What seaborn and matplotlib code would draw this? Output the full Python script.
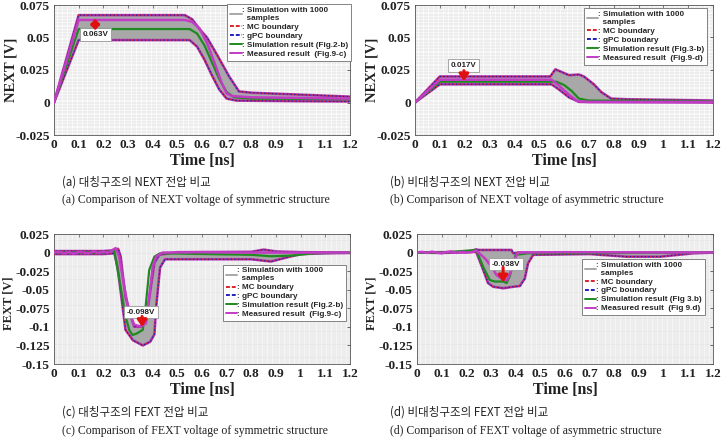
import numpy as np
import pandas as pd
import seaborn as sns
import matplotlib
matplotlib.use("Agg")
import matplotlib.pyplot as plt
from matplotlib.ticker import MultipleLocator, FixedLocator
from matplotlib.lines import Line2D

sns.set_style("white")
plt.rcParams['font.family'] = ['Liberation Serif', 'DejaVu Sans']

# ---------------- data ----------------
# (a) NEXT, symmetric
a_up_t = [0, 0.1, 0.53, 0.56, 0.59, 0.62, 0.66, 0.71, 0.75, 0.8, 1.0, 1.2]
a_up_v = [0, 0.0672, 0.0672, 0.064, 0.0565, 0.050, 0.037, 0.020, 0.0085, 0.0075, 0.006, 0.0045]
a_lo_t = [0, 0.1, 0.55, 0.58, 0.61, 0.64, 0.67, 0.70, 0.74, 1.0, 1.2]
a_lo_v = [0, 0.048, 0.048, 0.043, 0.033, 0.021, 0.010, 0.003, 0.0015, 0.001, 0.0008]
a_sim_t = [0, 0.1, 0.55, 0.58, 0.61, 0.64, 0.67, 0.70, 0.73, 0.8, 1.2]
a_sim_v = [0, 0.0565, 0.0565, 0.053, 0.044, 0.031, 0.018, 0.008, 0.004, 0.003, 0.0025]
a_meas_t = [0, 0.1, 0.53, 0.56, 0.59, 0.62, 0.65, 0.68, 0.70, 0.72, 0.8, 1.2]
a_meas_v = [0, 0.0635, 0.0635, 0.062, 0.057, 0.046, 0.031, 0.015, 0.007, 0.005, 0.004, 0.003]

# (b) NEXT, asymmetric
b_up_t = [0, 0.1, 0.545, 0.565, 0.59, 0.62, 0.66, 0.68, 0.72, 0.75, 0.79, 0.85, 1.2]
b_up_v = [0, 0.020, 0.020, 0.0255, 0.0235, 0.021, 0.0215, 0.020, 0.014, 0.008, 0.003, 0.0025, 0.0015]
b_lo_t = [0, 0.1, 0.55, 0.58, 0.62, 0.66, 0.7, 1.2]
b_lo_v = [0, 0.014, 0.014, 0.010, 0.004, 0.0005, 0.0003, 0.0]
b_sim_t = [0, 0.1, 0.57, 0.6, 0.63, 0.66, 0.7, 1.2]
b_sim_v = [0, 0.016, 0.016, 0.0135, 0.009, 0.003, 0.0015, 0.001]
b_meas_t = [0, 0.1, 0.55, 0.58, 0.62, 0.655, 0.7, 1.2]
b_meas_v = [0, 0.0175, 0.0175, 0.013, 0.006, 0.001, 0.0005, 0.0005]

# (c) FEXT, symmetric
c_up_t = [0, 0.1, 0.2, 0.24, 0.26, 0.27, 0.29, 0.325, 0.35, 0.373, 0.393, 0.407, 0.427, 0.5, 0.8, 0.85, 0.9, 1.0, 1.2]
c_up_v = [0.002, 0.002, 0.002, 0.003, 0.005, -0.005, -0.06, -0.0997, -0.100, -0.091, -0.046, -0.014, -0.003, 0.0005, 0.001, 0.004, 0.0015, 0.0005, 0.0]
c_lo_t = [0, 0.1, 0.2, 0.245, 0.258, 0.29, 0.32, 0.36, 0.39, 0.407, 0.415, 0.43, 0.45, 0.5, 0.8, 0.88, 0.95, 1.0, 1.1, 1.2]
c_lo_v = [-0.002, -0.002, -0.002, -0.001, -0.02, -0.104, -0.118, -0.125, -0.12, -0.11, -0.07, -0.02, -0.009, -0.009, -0.009, -0.012, -0.006, -0.002, -0.001, -0.0005]
c_sim_t = [0, 0.1, 0.2, 0.244, 0.27, 0.29, 0.305, 0.318, 0.335, 0.36, 0.373, 0.386, 0.407, 0.43, 0.8, 0.88, 0.97, 1.05, 1.2]
c_sim_v = [0.0, 0.0, 0.0, 0.003, -0.046, -0.086, -0.104, -0.111, -0.109, -0.104, -0.068, -0.0235, -0.0055, -0.001, -0.003, -0.005, -0.004, -0.001, 0.0]
c_meas_t = [0, 0.02, 0.04, 0.06, 0.08, 0.1, 0.12, 0.14, 0.16, 0.18, 0.2, 0.22, 0.25, 0.264, 0.285, 0.305, 0.325, 0.352, 0.373, 0.386, 0.4, 0.414, 0.44, 0.6, 0.8, 1.0, 1.2]
c_meas_v = [0.0, 0.001, -0.001, 0.0005, -0.0015, 0.001, 0.0, -0.001, 0.0015, -0.0005, 0.001, 0.0, 0.006, -0.005, -0.046, -0.082, -0.097, -0.0997, -0.095, -0.059, -0.019, -0.0055, 0.0, 0.0005, 0.0, 0.0, 0.0]

# (d) FEXT, asymmetric
d_up_t = [0, 0.1, 0.2, 0.241, 0.248, 0.383, 0.39, 0.41, 0.6, 1.2]
d_up_v = [0.0003, 0.0005, 0.0005, 0.0044, 0.0035, 0.0035, -0.001, 0.0, 0.0, 0.0]
d_lo_t = [0, 0.1, 0.24, 0.268, 0.288, 0.309, 0.35, 0.39, 0.417, 0.437, 0.45, 0.471, 0.7, 0.85, 0.986, 1.12, 1.2]
d_lo_v = [0.0, -0.0005, 0.001, -0.023, -0.041, -0.046, -0.048, -0.046, -0.045, -0.035, -0.0145, -0.003, -0.002, -0.0055, -0.0055, -0.001, 0.0]
d_sim_t = [0, 0.1, 0.24, 0.268, 0.295, 0.316, 0.35, 0.363, 0.376, 0.39, 0.40, 0.45, 1.2]
d_sim_v = [0.0, 0.0, 0.0035, -0.019, -0.037, -0.039, -0.039, -0.041, -0.032, -0.0145, -0.003, -0.001, 0.0]
d_meas_t = [0, 0.02, 0.04, 0.06, 0.08, 0.1, 0.12, 0.14, 0.16, 0.18, 0.2, 0.22, 0.24, 0.275, 0.302, 0.322, 0.35, 0.365, 0.383, 0.397, 0.41, 0.6, 1.2]
d_meas_v = [0.0, 0.001, -0.0005, 0.0012, 0.0, -0.001, 0.0008, 0.0015, -0.0005, 0.001, 0.0, 0.0005, 0.0026, -0.0077, -0.019, -0.030, -0.037, -0.037, -0.0235, -0.0077, 0.0, 0.0005, 0.0]

x_ticks = [0, 0.1, 0.2, 0.3, 0.4, 0.5, 0.6, 0.7, 0.8, 0.9, 1.0, 1.1, 1.2]
x_tick_labels = ['0', '0.1', '0.2', '0.3', '0.4', '0.5', '0.6', '0.7', '0.8', '0.9', '1', '1.1', '1.2']
next_ticks = [-0.025, 0, 0.025, 0.05, 0.075]
next_tick_labels = ['-0.025', '0', '0.025', '0.05', '0.075']
fext_ticks = [-0.15, -0.125, -0.1, -0.075, -0.05, -0.025, 0, 0.025]
fext_tick_labels = ['-0.15', '-0.125', '-0.1', '-0.075', '-0.05', '-0.025', '0', '0.025']

legend_labels = [': Simulation with 1000\n  samples', ': MC boundary', ': gPC boundary']
sim_labels = {'a': ': Simulation result (Fig.2-b)', 'b': ': Simulation result (Fig.3-b)',
              'c': ': Simulation result (Fig.2-b)', 'd': ': Simulation result (Fig 3.b)'}
meas_labels = {'a': ': Measured result  (Fig.9-c)', 'b': ': Measured result  (Fig.9-d)',
               'c': ': Measured result  (Fig.9-c)', 'd': ': Measured result  (Fig 9.d)'}
annot_text = {'a': '0.063V', 'b': '0.017V', 'c': '-0.098V', 'd': '-0.038V'}

cap_ko = {'a': '(a) 대칭구조의 NEXT 전압 비교', 'b': '(b) 비대칭구조의 NEXT 전압 비교',
          'c': '(c) 대칭구조의 FEXT 전압 비교', 'd': '(d) 비대칭구조의 FEXT 전압 비교'}
cap_en = {'a': '(a) Comparison of NEXT voltage of symmetric structure',
          'b': '(b) Comparison of NEXT voltage of asymmetric structure',
          'c': '(c) Comparison of FEXT voltage of symmetric structure',
          'd': '(d) Comparison of FEXT voltage of asymmetric structure'}

# ---------------- figure ----------------
W, H = 723, 446
fig = plt.figure(figsize=(W / 100, H / 100), dpi=100)

def px_axes(l, r, t, b):
    return fig.add_axes([l / W, 1 - b / H, (r - l) / W, (b - t) / H])

panels = {
    'a': dict(box=(54, 350, 5, 135), up=(a_up_t, a_up_v), lo=(a_lo_t, a_lo_v), sim=(a_sim_t, a_sim_v),
              meas=(a_meas_t, a_meas_v), ylab='NEXT [V]', ylx=11, yls=10.5, yly=0.5,
              ylim=(-0.025, 0.075), yt=(next_ticks, next_tick_labels),
              leg=(0.585, 1.005), ann=dict(xy=(0.167, 0.0645), xyt=(0.167, 0.0555), txt=(0.168, 0.0523), both=True)),
    'b': dict(box=(415, 713, 5, 135), up=(b_up_t, b_up_v), lo=(b_lo_t, b_lo_v), sim=(b_sim_t, b_sim_v),
              meas=(b_meas_t, b_meas_v), ylab='NEXT [V]', ylx=372, yls=10.5, yly=0.5,
              ylim=(-0.025, 0.075), yt=(next_ticks, next_tick_labels),
              leg=(0.567, 0.975), ann=dict(xy=(0.197, 0.0165), xyt=(0.197, 0.0245), txt=(0.196, 0.0285), both=False)),
    'c': dict(box=(54, 350, 234, 364), up=(c_up_t, c_up_v), lo=(c_lo_t, c_lo_v), sim=(c_sim_t, c_sim_v),
              meas=(c_meas_t, c_meas_v), ylab='FEXT [V]', ylx=9, yls=9.0, yly=0.47,
              ylim=(-0.15, 0.025), yt=(fext_ticks, fext_tick_labels),
              leg=(0.571, 0.765), ann=dict(xy=(0.357, -0.100), xyt=(0.357, -0.086), txt=(0.352, -0.080), both=False)),
    'd': dict(box=(417, 713, 234, 364), up=(d_up_t, d_up_v), lo=(d_lo_t, d_lo_v), sim=(d_sim_t, d_sim_v),
              meas=(d_meas_t, d_meas_v), ylab='FEXT [V]', ylx=372, yls=9.0, yly=0.47,
              ylim=(-0.15, 0.025), yt=(fext_ticks, fext_tick_labels),
              leg=(0.557, 0.81), ann=dict(xy=(0.349, -0.040), xyt=(0.349, -0.020), txt=(0.36, -0.0154), both=False)),
}

leg_font = dict(family=['Liberation Sans', 'DejaVu Sans'], weight='bold', size=5.9)
tick_font = dict(family='Liberation Serif', weight='bold', size=9.6)

for key, p in panels.items():
    ax = px_axes(*p['box'])
    ax.set_facecolor('white')
    ax.set_xlim(0, 1.2)
    ax.set_ylim(*p['ylim'])
    ax.xaxis.set_major_locator(FixedLocator(x_ticks))
    ax.xaxis.set_minor_locator(MultipleLocator(0.01))
    ax.yaxis.set_major_locator(FixedLocator(p['yt'][0]))
    ax.yaxis.set_minor_locator(MultipleLocator(0.0025))
    ax.grid(True, which='both', color='#d6d6d6', lw=0.35, zorder=0)
    ax.set_axisbelow(True)

    # gray band of 1000 samples
    t_all = np.union1d(p['up'][0], p['lo'][0])
    upi = np.interp(t_all, p['up'][0], p['up'][1])
    loi = np.interp(t_all, p['lo'][0], p['lo'][1])
    ax.fill_between(t_all, loi, upi, color='#a8a8a8', lw=0, zorder=2)

    # boundaries (MC red dashed, gPC blue dashed)
    for (tt, vv) in (p['up'], p['lo']):
        sns.lineplot(x=tt, y=vv, ax=ax, color='#b53db8', lw=1.9, zorder=3)
        sns.lineplot(x=tt, y=vv, ax=ax, color='#d0202a', lw=0.9, zorder=4,
                     linestyle=(0, (1.2, 1.8)))
        sns.lineplot(x=tt, y=vv, ax=ax, color='#202090', lw=0.9, zorder=4,
                     linestyle=(1.5, (1.2, 1.8)))
    # simulation & measurement
    sns.lineplot(x=p['sim'][0], y=p['sim'][1], ax=ax, color='#1f8a1f', lw=1.6, zorder=5)
    sns.lineplot(x=p['meas'][0], y=p['meas'][1], ax=ax, color='#c23cc6', lw=1.8, zorder=6)

    # ticks
    ax.set_xticks(x_ticks)
    ax.set_xticklabels(x_tick_labels, **tick_font)
    ax.set_yticks(p['yt'][0])
    ax.set_yticklabels(p['yt'][1], **tick_font)
    ax.tick_params(axis='both', which='major', direction='in', length=2, width=0.5,
                   top=True, right=True, pad=3, colors='#333333', labelcolor='#222222')
    ax.tick_params(axis='both', which='minor', length=0)
    for s in ax.spines.values():
        s.set_color('#555555')
        s.set_linewidth(0.6)
        s.set_visible(True)
    ax.set_xlabel('Time [ns]', family='Liberation Serif', weight='bold', size=11.5, labelpad=1, color='#222222')
    ax.set_ylabel(p['ylab'], family='Liberation Serif', weight='bold', size=p['yls'], color='#222222')
    ax.yaxis.label.set_va('center')
    ax.yaxis.set_label_coords(-(p['box'][0] - p['ylx']) / (p['box'][1] - p['box'][0]), p['yly'])

    # legend
    handles = [Line2D([], [], color='#a8a8a8', lw=1.4),
               Line2D([], [], color='#e0202a', lw=1.4, ls=(0, (2, 1))),
               Line2D([], [], color='#2020c0', lw=1.4, ls=(0, (2, 1))),
               Line2D([], [], color='#1f8a1f', lw=1.4),
               Line2D([], [], color='#c23cc6', lw=1.4)]
    labels = legend_labels + [sim_labels[key], meas_labels[key]]
    leg = ax.legend(handles, labels, loc='upper left', bbox_to_anchor=p['leg'], prop=leg_font,
                    frameon=True, fancybox=False, edgecolor='#707070', framealpha=1,
                    handlelength=1.4, handletextpad=0.0, labelspacing=0.15,
                    borderpad=0.35, borderaxespad=0)
    leg.get_frame().set_linewidth(0.6)
    leg.set_zorder(10)

    # annotation
    an = p['ann']
    style = ('<|-|>,head_length=0.35,head_width=0.3' if an['both']
             else '-|>,head_length=0.5,head_width=0.35')
    ax.annotate('', xy=an['xy'], xytext=an['xyt'],
                arrowprops=dict(arrowstyle=style, color='#e01010', lw=2.2, mutation_scale=8,
                                shrinkA=0, shrinkB=0), zorder=9)
    ax.text(an['txt'][0], an['txt'][1], annot_text[key], ha='center', va='center',
            family=['Liberation Sans', 'DejaVu Sans'], weight='bold', size=5.8, color='#222222', zorder=8,
            bbox=dict(boxstyle='square,pad=0.35', fc='white', ec='#999999', lw=0.6))

# captions
cap_pos = {'a': (62, 182, 200), 'b': (390, 182, 200), 'c': (62, 412, 431), 'd': (390, 412, 431)}
for key, (x, y1, y2) in cap_pos.items():
    fig.text(x / W, 1 - y1 / H, cap_ko[key], family=['Noto Sans CJK KR', 'DejaVu Sans'],
             size=8.3, va='center', ha='left', color='#222222')
    fig.text(x / W, 1 - y2 / H, cap_en[key], family='Liberation Serif',
             size=8.5, va='center', ha='left', color='#222222')

fig.savefig('out.png', dpi=100)
